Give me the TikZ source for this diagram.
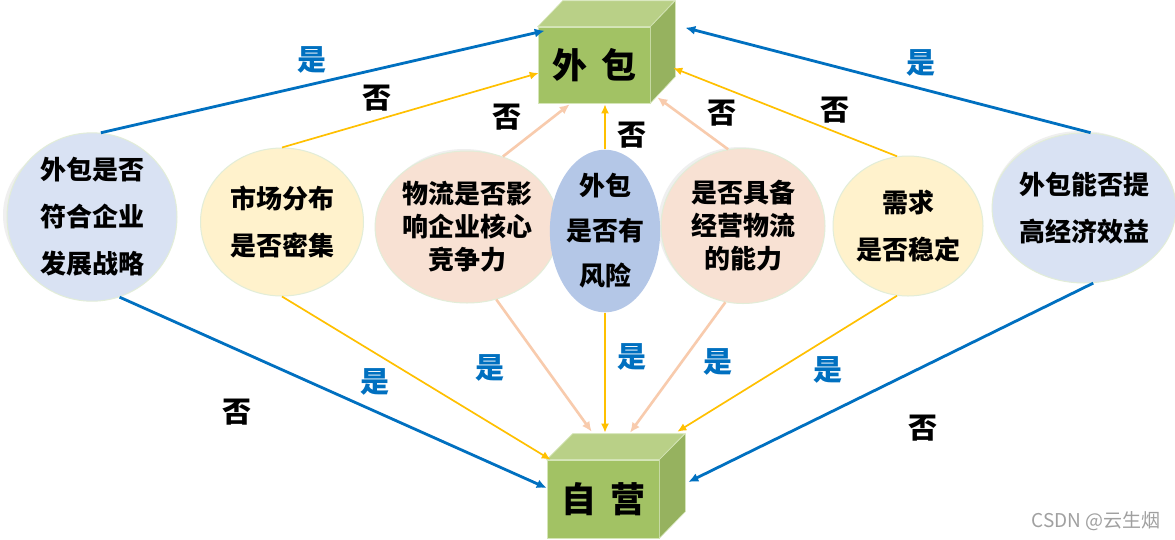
\documentclass[tikz,border=0pt]{standalone}
\usepackage{fontspec}
\usetikzlibrary{shapes.geometric,arrows.meta}
\newfontfamily\cjk{Noto Sans CJK SC}
\definecolor{cblue}{HTML}{0070C0}
\definecolor{cyellow}{HTML}{FFC000}
\definecolor{cpeach}{HTML}{F8CBAD}
\definecolor{elblue}{HTML}{D9E2F3}
\definecolor{elbluedark}{HTML}{B4C7E7}
\definecolor{elyellow}{HTML}{FFF2CC}
\definecolor{elpeach}{HTML}{F8E1D3}
\definecolor{elborder}{HTML}{E2EDD8}
\definecolor{cubefront}{HTML}{A2C264}
\definecolor{cubetop}{HTML}{B9D087}
\definecolor{cubeside}{HTML}{96B25F}
\definecolor{cubeedge}{HTML}{D5E5B8}
\definecolor{halocol}{HTML}{EFEFEF}
\definecolor{wmark}{HTML}{A0A0A0}
\tikzset{
  el/.style={ellipse, inner sep=0pt, draw=elborder, line width=1pt, align=center, text=black},
  twoline/.style={font=\cjk\bfseries\fontsize{26}{47}\selectfont},
  threeline/.style={font=\cjk\bfseries\fontsize{26}{33}\selectfont},
  cubeface/.style={rectangle, inner sep=0pt, fill=cubefront, draw=cubeedge, line width=0.6pt,
                   font=\cjk\bfseries\fontsize{35}{40}\selectfont},
  yeslab/.style={font=\cjk\bfseries\fontsize{29}{30}\selectfont, text=cblue},
  nolab/.style={font=\cjk\bfseries\fontsize{29}{30}\selectfont, text=black},
  bluearr/.style={draw=cblue, line width=2.8pt, -{Latex[length=10pt,width=9pt]}},
  yelarr/.style={draw=cyellow, line width=1.7pt, -{Latex[length=9pt,width=8pt]}},
  peacharr/.style={draw=cpeach, line width=2.6pt, -{Latex[length=10pt,width=9pt]}},
}
\begin{document}
\begin{tikzpicture}[x=1pt,y=-1pt]
\useasboundingbox (0,0) rectangle (1175,539);
\fill[white] (0,0) rectangle (1175,539);

% soft halos behind some ellipses
\fill[halocol] (89,215) ellipse [x radius=86pt, y radius=76pt];
\fill[halocol] (464,225) ellipse [x radius=85pt, y radius=76pt];
\fill[halocol] (740,224) ellipse [x radius=82pt, y radius=77pt];
\fill[halocol] (1081,206) ellipse [x radius=89pt, y radius=75pt];

% decision ellipses
\node[el, twoline, fill=elblue, minimum width=170pt, minimum height=150pt] (e1) at (92,217) {外包是否\\符合企业\\发展战略};
\node[el, twoline, fill=elyellow, minimum width=163pt, minimum height=148pt] (e2) at (282,222) {市场分布\\是否密集};
\node[el, threeline, fill=elpeach, minimum width=170pt, minimum height=152pt] (e3) at (467,227) {物流是否影\\响企业核心\\竞争力};
\node[el, fill=elbluedark, draw=none, minimum width=103pt, minimum height=152pt,
      font=\cjk\bfseries\fontsize{26}{45}\selectfont] (e4) at (605,231) {外包\\是否有\\风险};
\node[el, threeline, fill=elpeach, minimum width=164pt, minimum height=155pt] (e5) at (743,226) {是否具备\\经营物流\\的能力};
\node[el, twoline, fill=elyellow, minimum width=150pt, minimum height=140pt] (e6) at (908,226) {需求\\是否稳定};
\node[el, twoline, fill=elblue, minimum width=178pt, minimum height=150pt] (e7) at (1084,208) {外包能否提\\高经济效益};

% cube: 外包
\node[cubeface, minimum width=112pt, minimum height=76pt] (wb) at (594,65) {外\hspace{14pt}包};
\fill[cubetop, draw=cubeedge, line width=0.6pt] (wb.north west) -- ++(25,-26) -- ++(112,0) -- (wb.north east) -- cycle;
\fill[cubeside, draw=cubeedge, line width=0.6pt] (wb.north east) -- ++(25,-26) -- ++(0,76) -- (wb.south east) -- cycle;

% cube: 自营
\node[cubeface, minimum width=112pt, minimum height=78pt] (zy) at (603,499) {自\hspace{14pt}营};
\fill[cubetop, draw=cubeedge, line width=0.6pt] (zy.north west) -- ++(26,-26) -- ++(112,0) -- (zy.north east) -- cycle;
\fill[cubeside, draw=cubeedge, line width=0.6pt] (zy.north east) -- ++(26,-26) -- ++(0,78) -- (zy.south east) -- cycle;

% arrows to 外包
\draw[bluearr]  (e1.84)  -- ([shift={(7,4)}]wb.north west);
\draw[yelarr]   (e2.north) -- ([shift={(1,8)}]wb.west);
\draw[peacharr] (e3.63)  -- ([shift={(32,1)}]wb.south west);
\draw[yelarr]   (e4.north) -- ([shift={(11,1)}]wb.south);
\draw[peacharr] (e5.101) -- ([shift={(7,-6)}]wb.south east);
\draw[yelarr]   (e6.99)  -- ([shift={(23,3)}]wb.east);
\draw[bluearr]  (e7.85)  -- ([shift={(35,1)}]wb.north east);

% arrows to 自营
\draw[bluearr]  (e1.-71)  -- ([shift={(0,-11)}]zy.west);
\draw[yelarr]   (e2.south) -- ([shift={(4,0)}]zy.north west);
\draw[peacharr] (e3.-68)  -- ([shift={(45,-28)}]zy.north west);
\draw[yelarr]   (e4.south) -- ([shift={(2,-27)}]zy.north);
\draw[peacharr] (e5.-103) -- ([shift={(27,-27)}]zy.north);
\draw[yelarr]   (e6.-99)  -- ([shift={(18,-28)}]zy.north east);
\draw[bluearr]  (e7.-83)  -- ([shift={(29,-17)}]zy.east);

% labels
\node[yeslab] (l1)  at (312,60)  {是};
\node[nolab]  (l2)  at (377,98)  {否};
\node[nolab]  (l3)  at (507,117) {否};
\node[nolab]  (l4)  at (632,135) {否};
\node[nolab]  (l5)  at (722,113) {否};
\node[nolab]  (l6)  at (835,110) {否};
\node[yeslab] (l7)  at (921,63)  {是};
\node[nolab]  (l8)  at (237,412) {否};
\node[yeslab] (l9)  at (375,382) {是};
\node[yeslab] (l10) at (490,368) {是};
\node[yeslab] (l11) at (632,357) {是};
\node[yeslab] (l12) at (718,362) {是};
\node[yeslab] (l13) at (828,370) {是};
\node[nolab]  (l14) at (923,428) {否};

% watermark
\node[font=\cjk\fontsize{19}{20}\selectfont, text=wmark] (wm) at (1096,521) {CSDN @云生烟};
\end{tikzpicture}
\end{document}
